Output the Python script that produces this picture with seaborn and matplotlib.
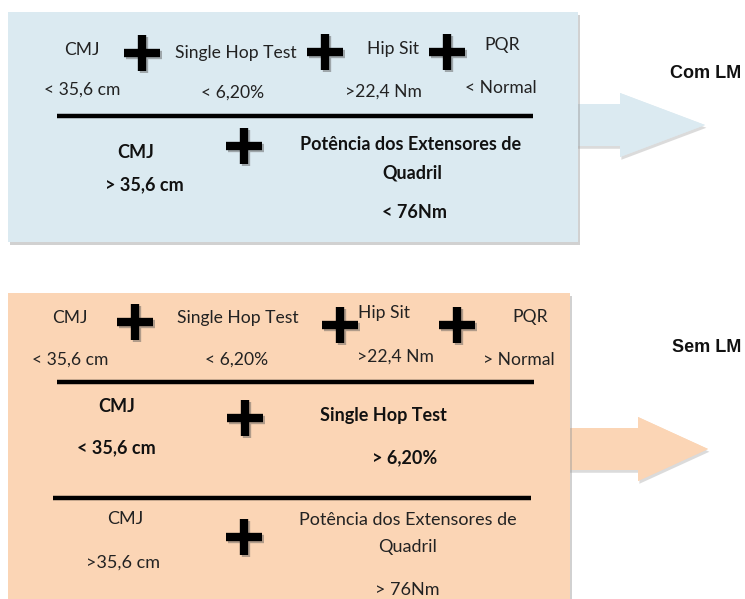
import matplotlib
matplotlib.use("Agg")
import matplotlib.pyplot as plt
import matplotlib.patheffects as pe
from matplotlib.patches import Rectangle, Polygon
import seaborn as sns

# -----------------------------
# Texts of the diagram
# -----------------------------
tests_row = ["CMJ", "Single Hop Test", "Hip Sit", "PQR"]
com_limits = ["< 35,6 cm", "< 6,20%", ">22,4 Nm", "< Normal"]
sem_limits = ["< 35,6 cm", "< 6,20%", ">22,4 Nm", "> Normal"]

com_combo = ["CMJ", "> 35,6 cm", "Potência dos Extensores de", "Quadril", "< 76Nm"]
sem_combo_1 = ["CMJ", "< 35,6 cm", "Single Hop Test", "> 6,20%"]
sem_combo_2 = ["CMJ", ">35,6 cm", "Potência dos Extensores de", "Quadril", "> 76Nm"]

group_labels = ["Com LM", "Sem LM"]

# -----------------------------
# Layout (pixel coordinates)
# -----------------------------
W, H = 745, 599
BLUE = "#dbeaf1"
PEACH = "#fbd5b5"

sns.set_theme(style="white")
plt.rcParams["font.family"] = ["Lato", "DejaVu Sans"]

fig = plt.figure(figsize=(W / 100, H / 100), dpi=100)
ax = fig.add_axes([0, 0, 1, 1])
ax.set_xlim(0, W)
ax.set_ylim(H, 0)
ax.axis("off")

shadow = [pe.withSimplePatchShadow(offset=(1.5, -2.5), shadow_rgbFace="#9a9a9a", alpha=0.45), pe.Normal()]

# boxes
ax.add_patch(Rectangle((8, 12), 570, 230, facecolor=BLUE, edgecolor="none", path_effects=shadow, zorder=1))
ax.add_patch(Rectangle((8, 293), 562, 330, facecolor=PEACH, edgecolor="none", path_effects=shadow, zorder=1))

# arrows
def arrow(x0, x1, xt, yc, color):
    pts = [(x0, yc - 21), (x1, yc - 21), (x1, yc - 32), (xt, yc),
           (x1, yc + 32), (x1, yc + 21), (x0, yc + 21)]
    ax.add_patch(Polygon(pts, closed=True, facecolor=color, edgecolor="none",
                         path_effects=[pe.withSimplePatchShadow(offset=(1, -2), shadow_rgbFace="#9a9a9a", alpha=0.35),
                                       pe.Normal()], zorder=0.5))

arrow(560, 620, 705, 125, BLUE)
arrow(555, 638, 708, 449, PEACH)

# separator lines
for x0, x1, y in [(57, 533, 116), (57, 534, 382), (53, 531, 498)]:
    ax.plot([x0, x1], [y, y], color="black", lw=3.2, solid_capstyle="butt", zorder=2)

# plus signs
plus_x = [142, 325, 447, 244, 135, 340, 457, 245, 244]
plus_y = [53, 52, 52, 146, 322, 325, 325, 418, 537]
sns.scatterplot(x=plus_x, y=plus_y, marker="+", s=680, linewidth=6, color="black", ax=ax, zorder=3,
                path_effects=[pe.SimpleLineShadow(offset=(1.5, -1.5), shadow_color="#555555", alpha=0.45), pe.Normal()])

reg = dict(fontsize=12.6, color="#222222", ha="center", va="center", zorder=4)
bold = dict(fontsize=13, color="#111111", ha="center", va="center", fontweight="bold", zorder=4)
reg2 = dict(reg, fontsize=13)

# Com LM box
for t, x, y in zip(tests_row, [82, 236, 393, 502], [50, 53, 49, 45]):
    ax.text(x, y, t, **reg)
for t, x, y in zip(com_limits, [82, 233, 383, 501], [90, 93, 92, 88]):
    ax.text(x, y, t, **reg)
for t, x, y in zip(com_combo, [136, 144, 411, 412, 414], [152, 185, 144, 173, 213]):
    ax.text(x, y, t, **bold)

# Sem LM box
for t, x, y in zip(tests_row, [70, 238, 384, 530], [318, 318, 313, 317]):
    ax.text(x, y, t, **reg)
for t, x, y in zip(sem_limits, [70, 237, 395, 519], [360, 360, 357, 360]):
    ax.text(x, y, t, **reg)
for t, x, y in zip(sem_combo_1, [117, 116, 383, 405], [406, 448, 415, 458]):
    ax.text(x, y, t, **bold)
for t, x, y in zip(sem_combo_2, [125, 123, 408, 408, 407], [519, 563, 520, 547, 590]):
    ax.text(x, y, t, **reg2)

# group labels
for t, y in zip(group_labels, [74, 347]):
    ax.text(741, y, t, ha="right", va="center", fontsize=13, fontweight="bold",
            family=["Liberation Sans", "DejaVu Sans"], color="#111111")

fig.savefig("out.png", dpi=100)
